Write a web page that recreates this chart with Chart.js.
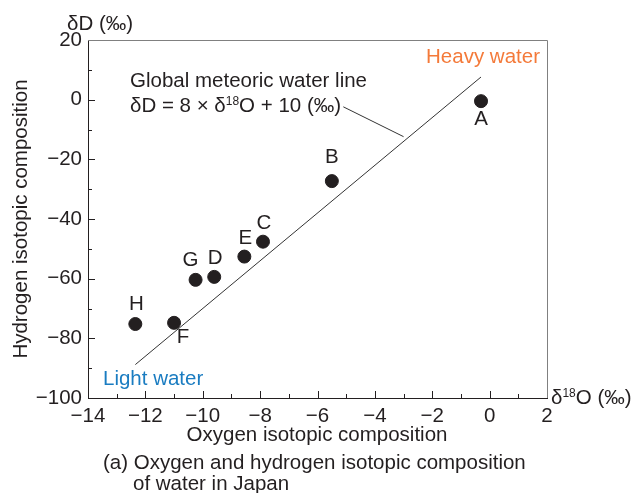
<!DOCTYPE html>
<html>
<head>
<meta charset="utf-8">
<script src="https://cdn.jsdelivr.net/npm/chart.js@4"></script>
<style>
  body { margin: 0; background: #fff; }
  #wrap { width: 631px; height: 493px; }
</style>
</head>
<body>
<div id="wrap"><canvas id="isochart"></canvas></div>
<script>
// sample sites
const sites = ['A', 'B', 'C', 'D', 'E', 'F', 'G', 'H'];
const oxygen = [-0.3, -5.5, -7.9, -9.6, -8.55, -11.0, -10.25, -12.35];
const hydrogen = [-0.5, -27.3, -47.6, -59.4, -52.6, -74.8, -60.4, -75.2];

// global meteoric water line, drawn end points
const gmwlX = [-12.35, -0.3];
const gmwlY = [-88.8, 7.6];
// leader from the line label to the line
const leaderX = [-5.1, -3.0];
const leaderY = [-2.4, -12.4];

const xTicks = [-14, -12, -10, -8, -6, -4, -2, 0, 2];
const yTicks = [-100, -80, -60, -40, -20, 0, 20];

const ink = '#231f20';
const fontFam = "'Liberation Sans', Arial, Helvetica, sans-serif";
const fs = 20.5;
const mainFont = fs + 'px ' + fontFam;

// where each letter sits relative to its dot (px)
const labelOffset = {
  A: [0, 18], B: [0, -24], C: [1, -18], D: [1, -19],
  E: [1, -18], F: [9, 15], G: [-5, -20], H: [1, -20]
};

const minus = v => String(v).replace('-', '\u2212');

function superText(ctx, parts, x, y) {
  // parts: [text, isSup]
  let cx = x;
  parts.forEach(p => {
    ctx.font = p[1] ? '12px ' + fontFam : mainFont;
    ctx.fillText(p[0], cx, p[1] ? y - 7 : y);
    cx += ctx.measureText(p[0]).width;
  });
}

const extras = {
  id: 'extras',
  afterDraw(chart) {
    const ctx = chart.ctx;
    const a = chart.chartArea;
    const xs = chart.scales.x, ys = chart.scales.y;
    ctx.save();

    // grey frame top / right
    ctx.strokeStyle = '#808080';
    ctx.lineWidth = 1;
    ctx.beginPath();
    ctx.moveTo(a.left, a.top + 0.5);
    ctx.lineTo(a.right + 0.5, a.top + 0.5);
    ctx.lineTo(a.right + 0.5, a.bottom);
    ctx.stroke();

    // inward ticks
    ctx.strokeStyle = ink;
    ctx.beginPath();
    xs.ticks.forEach(t => {
      const px = Math.round(xs.getPixelForValue(t.value)) + 0.5;
      const len = t.value % 2 === 0 ? 7 : 4;
      if (t.value === xs.min || t.value === xs.max) return;
      ctx.moveTo(px, a.bottom);
      ctx.lineTo(px, a.bottom - len);
    });
    ys.ticks.forEach(t => {
      const py = Math.round(ys.getPixelForValue(t.value)) + 0.5;
      const len = t.value % 20 === 0 ? 7 : 4;
      if (t.value === ys.min || t.value === ys.max) return;
      ctx.moveTo(a.left, py);
      ctx.lineTo(a.left + len, py);
    });
    ctx.stroke();

    // point letters
    const meta = chart.getDatasetMeta(0);
    ctx.fillStyle = ink;
    ctx.font = mainFont;
    ctx.textAlign = 'center';
    ctx.textBaseline = 'middle';
    meta.data.forEach((el, i) => {
      const off = labelOffset[sites[i]];
      ctx.fillText(sites[i], el.x + off[0], el.y + off[1]);
    });

    // annotations
    ctx.textBaseline = 'alphabetic';
    ctx.textAlign = 'left';
    ctx.fillText('Global meteoric water line', 130, 87);
    superText(ctx, [['\u03B4D = 8 \u00D7 \u03B4', false], ['18', true], ['O + 10 (\u2030)', false]], 130, 112);

    ctx.font = mainFont;
    ctx.fillStyle = '#f47a3a';
    ctx.textAlign = 'right';
    ctx.fillText('Heavy water', 540, 63);
    ctx.fillStyle = '#1a7cc1';
    ctx.textAlign = 'left';
    ctx.fillText('Light water', 103, 385);

    // axis units
    ctx.fillStyle = ink;
    ctx.fillText('\u03B4D (\u2030)', 67, 30);
    superText(ctx, [['\u03B4', false], ['18', true], ['O (\u2030)', false]], 551, 404);

    // axis titles
    ctx.font = mainFont;
    ctx.textAlign = 'center';
    ctx.fillText('Oxygen isotopic composition', 317, 441);
    ctx.save();
    ctx.translate(27, 219);
    ctx.rotate(-Math.PI / 2);
    ctx.fillText('Hydrogen isotopic composition', 0, 0);
    ctx.restore();

    // caption
    ctx.textAlign = 'left';
    ctx.fillText('(a) Oxygen and hydrogen isotopic composition', 103, 469);
    ctx.fillText('of water in Japan', 133, 490);

    ctx.restore();
  }
};

const canvas = document.getElementById('isochart');
const ctx = canvas.getContext('2d');
let isochart = new Chart(ctx, {
  type: 'scatter',
  data: {
    datasets: [{
      label: 'sites',
      data: oxygen.map((v, i) => ({x: v, y: hydrogen[i]})),
      backgroundColor: ink,
      borderColor: ink,
      pointRadius: 6.5,
      order: 0
    }, {
      label: 'GMWL',
      type: 'line',
      data: gmwlX.map((v, i) => ({x: v, y: gmwlY[i]})),
      borderColor: '#333',
      borderWidth: 1,
      pointRadius: 0,
      order: 1
    }, {
      label: 'leader',
      type: 'line',
      data: leaderX.map((v, i) => ({x: v, y: leaderY[i]})),
      borderColor: '#333',
      borderWidth: 1,
      pointRadius: 0,
      order: 1
    }]
  },
  options: {
    responsive: true,
    maintainAspectRatio: false,
    animation: false,
    events: [],
    layout: {
      padding: {top: 40, right: 84, left: 0, bottom: 0}
    },
    plugins: {
      legend: {display: false},
      tooltip: {enabled: false}
    },
    scales: {
      x: {
        type: 'linear',
        min: -14,
        max: 2,
        afterFit: s => { s.height = 95; },
        grid: {display: false, drawTicks: false},
        border: {display: true, color: ink, width: 1},
        ticks: {
          stepSize: 1,
          padding: 6,
          maxRotation: 0,
          autoSkip: false,
          color: ink,
          font: {family: fontFam, size: fs},
          callback: v => xTicks.includes(v) ? minus(v) : ''
        }
      },
      y: {
        type: 'linear',
        min: -100,
        max: 20,
        afterFit: s => { s.width = 88; },
        grid: {display: false, drawTicks: false},
        border: {display: true, color: ink, width: 1},
        ticks: {
          stepSize: 10,
          padding: 6,
          autoSkip: false,
          color: ink,
          font: {family: fontFam, size: fs},
          callback: v => yTicks.includes(v) ? minus(v) : ''
        }
      }
    }
  },
  plugins: [extras]
});
</script>
</body>
</html>
